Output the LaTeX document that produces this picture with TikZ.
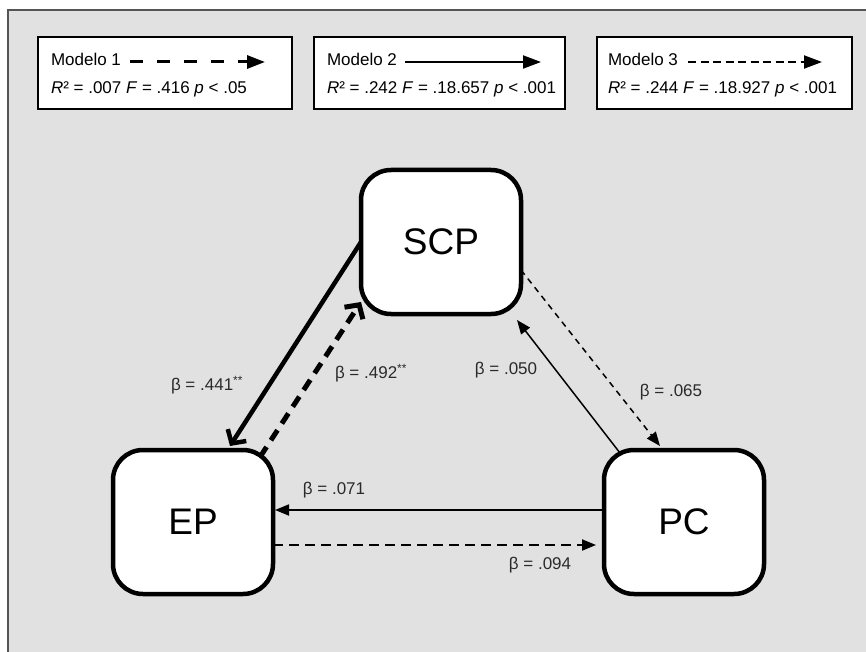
\documentclass[tikz,border=0pt]{standalone}
\usepackage{fontspec}
\setmainfont{Liberation Sans}
\usetikzlibrary{arrows.meta,calc}
\definecolor{bggray}{HTML}{E1E1E1}
\definecolor{framegray}{HTML}{555555}
\definecolor{labelgray}{HTML}{2A2A2A}
\begin{document}
\begin{tikzpicture}[x=1pt,y=-1pt,
  every node/.style={inner sep=0pt,outer sep=0pt},
  bigbox/.style={draw=black,line width=4.5pt,fill=white,rounded corners=30pt,
    minimum width=160pt,minimum height=144pt,font=\fontsize{37}{40}\selectfont},
  legbox/.style={draw=black,line width=2pt,fill=white,anchor=north west,minimum height=72pt},
  legtext/.style={anchor=base west,font=\fontsize{17}{19}\selectfont},
  betalabel/.style={font=\fontsize{17}{19}\selectfont,text=labelgray},
  legtip/.style={-{Triangle[length=18pt,width=13pt]}},
  thintip/.style={-{Triangle[length=14pt,width=11pt]}},
  barbtip/.style={-{Straight Barb[length=10pt,width=22pt]}},
]
\useasboundingbox (0,0) rectangle (866,652);
\clip (0,0) rectangle (866,652);
\fill[white] (0,0) rectangle (866,652);
\fill[bggray] (8,10) rectangle (880,670);
\draw[framegray,line width=2.5pt] (8,670) -- (8,10) -- (880,10);

% legend boxes
\node[legbox,minimum width=254pt] (leg1) at (38,37) {};
\node[legbox,minimum width=251pt] (leg2) at (314,37) {};
\node[legbox,minimum width=255pt] (leg3) at (597,37) {};

\node[legtext] (m1) at (51,66) {Modelo 1};
\node[legtext] (s1) at (51,94) {\textit{R}² = .007 \textit{F} = .416 \textit{p} < .05};
\node[legtext] (m2) at (327,66) {Modelo 2};
\node[legtext] (s2) at (327,94) {\textit{R}² = .242 \textit{F} = .18.657 \textit{p} < .001};
\node[legtext] (m3) at (608,66) {Modelo 3};
\node[legtext] (s3) at (608,94) {\textit{R}² = .244 \textit{F} = .18.927 \textit{p} < .001};

\coordinate (l1a) at (130,62); \coordinate (l1b) at (265,62);
\coordinate (l2a) at (405,62); \coordinate (l2b) at (541,62);
\coordinate (l3a) at (688,62); \coordinate (l3b) at (822,62);
\draw[legtip,line width=3pt,dash pattern=on 13pt off 14pt] (l1a) -- (l1b);
\draw[legtip,line width=2pt] (l2a) -- (l2b);
\draw[legtip,line width=2pt,dash pattern=on 8pt off 4.5pt] (l3a) -- (l3b);

% main nodes
\node[bigbox] (SCP) at (441,242) {SCP};
\node[bigbox] (EP) at (193,522) {EP};
\node[bigbox] (PC) at (684,522) {PC};

% connectors
\draw[barbtip,line width=4.5pt] (SCP.west) -- ([xshift=37pt,yshift=4pt]EP.north);
\draw[barbtip,line width=5pt,dash pattern=on 12pt off 8pt] ([xshift=-13pt,yshift=-7pt]EP.north east) -- ([yshift=12pt]SCP.south west);
\draw[thintip,line width=1.5pt] ([xshift=16pt,yshift=-3pt]PC.north west) -- ([xshift=-4pt,yshift=-6pt]SCP.south east);
\draw[thintip,line width=1.5pt,dash pattern=on 6pt off 5pt] ([yshift=-28pt]SCP.east) -- ([xshift=-24pt,yshift=4pt]PC.north);
\draw[thintip,line width=1.8pt] ([yshift=12pt]PC.west) -- ([yshift=12pt,xshift=2pt]EP.east);
\draw[thintip,line width=2pt,dash pattern=on 10pt off 6pt] ([yshift=-23pt]EP.east) -- ([yshift=-23pt,xshift=-8pt]PC.west);

% labels
\node[betalabel] (b1) at (207,385) {β = .441\textsuperscript{**}};
\node[betalabel] (b2) at (371,373) {β = .492\textsuperscript{**}};
\node[betalabel] (b3) at (506,370) {β = .050};
\node[betalabel] (b4) at (671,392) {β = .065};
\node[betalabel] (b5) at (334,490) {β = .071};
\node[betalabel] (b6) at (540,565) {β = .094};
\end{tikzpicture}
\end{document}
